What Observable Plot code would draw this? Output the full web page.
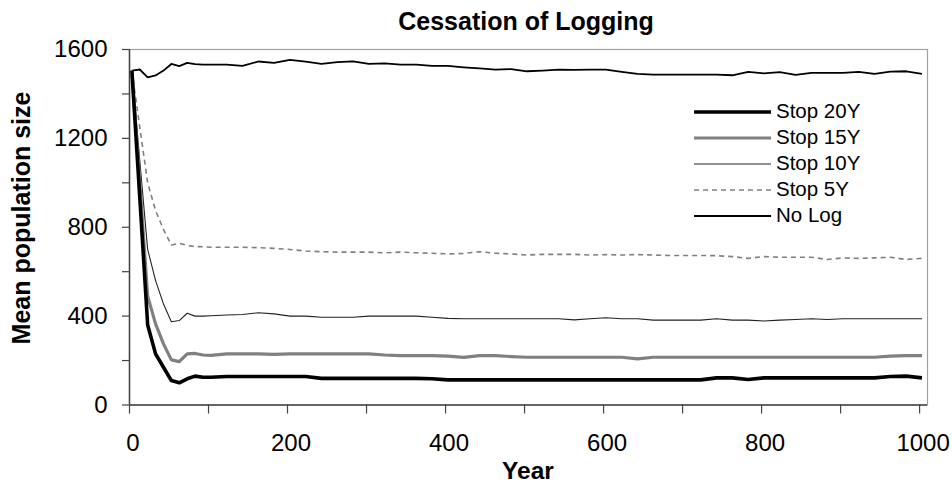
<!DOCTYPE html>
<html><head><meta charset="utf-8">
<script src="https://cdn.jsdelivr.net/npm/d3@7"></script>
<script src="https://cdn.jsdelivr.net/npm/@observablehq/plot@0.6"></script>
<style>
body{margin:0;background:#fff;}
#chart{position:relative;width:952px;height:485px;font-family:"Liberation Sans",Arial,sans-serif;}
#chart svg{position:absolute;left:0;top:0;}
</style></head><body><div id="chart"></div>
<script>
const titleText = "Cessation of Logging";
const xTitle = "Year";
const yTitle = "Mean population size";

const years = [3,13,23,33,43,53,63,73,83,93,
  103,123,143,163,183,203,223,243,263,283,303,323,343,363,383,403,423,443,463,483,
  503,523,543,563,583,603,623,643,663,683,703,723,743,763,783,803,823,843,863,883,
  903,923,943,963,983,1003];

const noLog = [1505,1510,1475,1483,1505,1535,1525,1540,1534,1532,
  1532,1532,1526,1546,1540,1553,1545,1535,1543,1547,1535,1538,1532,1532,1526,1526,1520,1515,1509,1512,
  1502,1505,1509,1508,1509,1509,1499,1490,1487,1487,1487,1487,1487,1484,1499,1493,1498,1486,1495,1495,
  1495,1499,1490,1500,1502,1490];

const stop5 = [1505,1250,1000,875,790,720,728,718,713,712,
  710,710,710,708,705,700,693,690,688,688,688,685,688,685,683,680,682,690,683,680,
  675,678,678,678,675,677,675,677,675,673,673,673,672,668,660,668,665,665,665,655,
  662,660,662,665,655,660];

const stop10 = [1505,1100,700,560,455,375,380,413,400,400,
  402,405,407,415,410,400,400,395,395,395,400,400,400,400,395,390,388,388,388,388,
  388,388,388,383,388,393,388,388,382,382,382,382,388,382,382,378,382,385,388,385,
  388,388,388,388,388,388];

const stop15 = [1505,1000,490,365,275,203,195,230,232,225,
  223,230,230,230,228,230,230,230,230,230,230,225,222,222,222,220,214,222,222,218,
  215,215,215,215,215,215,215,208,215,215,215,215,215,215,215,215,215,215,215,215,
  215,215,215,220,222,222];

const stop20 = [1505,935,360,230,170,110,100,118,130,125,
  125,128,128,128,128,128,128,120,120,120,120,120,120,120,118,113,113,113,113,113,
  113,113,113,113,113,113,113,113,113,113,113,113,122,122,115,122,122,122,122,122,
  122,122,122,128,130,122];

const xTicks = [0,100,200,300,400,500,600,700,800,900,1000];
const xLabels = [0,200,400,600,800,1000];
const yTicks = [0,200,400,600,800,1000,1200,1400,1600];
const yLabels = [0,400,800,1200,1600];

const series = [
  {name:"No Log",   values:noLog,  stroke:"#000",    width:1.8, dash:null},
  {name:"Stop 5Y",  values:stop5,  stroke:"#808080", width:1.6, dash:"5,4"},
  {name:"Stop 10Y", values:stop10, stroke:"#222",    width:1.1, dash:null},
  {name:"Stop 15Y", values:stop15, stroke:"#808080", width:3.2, dash:null},
  {name:"Stop 20Y", values:stop20, stroke:"#000",    width:3.6, dash:null}
];
const legendOrder = ["Stop 20Y","Stop 15Y","Stop 10Y","Stop 5Y","No Log"];

const toRows = vals => years.map((year, i) => ({year, value: vals[i]}));

const font = "Liberation Sans, Arial, sans-serif";

const chart = Plot.plot({
  width: 952,
  height: 485,
  marginTop: 49,
  marginBottom: 80.5,
  marginLeft: 129,
  marginRight: 25,
  style: {fontFamily: font, fontSize: "24px", color: "#000", background: "transparent", overflow: "visible"},
  x: {domain: [0, 1010]},
  y: {domain: [0, 1600]},
  marks: [
    Plot.frame({stroke: "#a0a0a0", strokeWidth: 1.2}),
    ...series.map(s => Plot.line(toRows(s.values), {
      x: "year", y: "value", stroke: s.stroke, strokeWidth: s.width,
      strokeDasharray: s.dash, strokeLinejoin: "round", strokeLinecap: "butt"
    })),
    Plot.ruleX([0], {stroke: "#444", strokeWidth: 1.5}),
    Plot.ruleY([0], {stroke: "#444", strokeWidth: 1.5}),
    Plot.axisX(xTicks, {tickSize: 9, tickFormat: () => "", stroke: "#444", strokeWidth: 1.2, label: null}),
    Plot.axisX(xLabels, {tickSize: 0, tickPadding: 29, dx: 3.5, fontSize: 24, fill: "#000", tickFormat: d => String(d), label: null}),
    Plot.axisY(yTicks, {tickSize: 7, tickFormat: () => "", stroke: "#444", strokeWidth: 1.2, label: null}),
    Plot.axisY(yLabels, {tickSize: 0, tickPadding: 22, fontSize: 24, fill: "#000", tickFormat: d => String(d), label: null}),
    Plot.text([titleText], {frameAnchor: "top", textAnchor: "middle", lineAnchor: "bottom", dy: -19.7, dx: -2.5, fontSize: 25, fontWeight: "bold", fill: "#000"}),
    Plot.text([xTitle], {frameAnchor: "bottom", textAnchor: "middle", lineAnchor: "bottom", dy: 74, dx: -0.5, fontSize: 24.5, fontWeight: "bold", fill: "#000"}),
    Plot.text([yTitle], {frameAnchor: "left", textAnchor: "middle", rotate: -90, lineAnchor: "bottom", dx: -100, dy: -9.25, fontSize: 25, fontWeight: "bold", fill: "#000"})
  ]
});

const root = document.getElementById("chart");
root.appendChild(chart);

// legend overlay
const leg = d3.select(root).append("svg")
  .attr("width", 952).attr("height", 485)
  .style("pointer-events", "none");
legendOrder.forEach((name, i) => {
  const s = series.find(d => d.name === name);
  const y = 112 + i * 26;
  leg.append("line")
    .attr("x1", 694).attr("x2", 771).attr("y1", y).attr("y2", y)
    .attr("stroke", s.stroke).attr("stroke-width", s.width)
    .attr("stroke-dasharray", s.dash);
  leg.append("text")
    .attr("x", 776).attr("y", y + 6.3)
    .attr("font-family", font).attr("font-size", 20.5).attr("fill", "#000")
    .text(name);
});
</script></body></html>
